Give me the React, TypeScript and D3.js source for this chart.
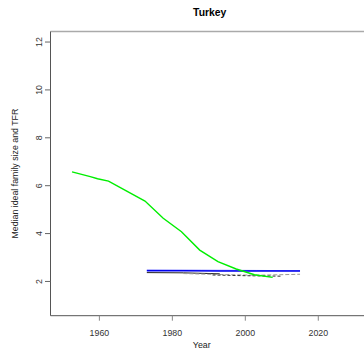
import React from "react";
import * as d3 from "d3";

// Total fertility rate (5-year period midpoints)
const tfrYears = [1952.5, 1957.5, 1959.5, 1962.5, 1967.5, 1972.5, 1977.5, 1982.5, 1987.5, 1992.5, 1997.5, 2002.5, 2007.5];
const tfrValues = [6.58, 6.38, 6.29, 6.19, 5.77, 5.36, 4.64, 4.08, 3.31, 2.83, 2.52, 2.28, 2.17];

// Median ideal family size (survey estimates)
const idealYears = [1973, 1983, 1993, 2003, 2015];
const idealValues = [2.45, 2.45, 2.44, 2.44, 2.44];
const idealUpperYears = [1973, 1988, 2003, 2015];
const idealUpperValues = [2.48, 2.47, 2.46, 2.45];

// Ideal family size by subgroup
const groupAYears = [1973, 1983, 1993];
const groupAValues = [2.37, 2.36, 2.32];
const groupBYears = [1983, 1993, 2003, 2015];
const groupBValues = [2.33, 2.29, 2.26, 2.30];
const groupCYears = [1991, 2000, 2010];
const groupCValues = [2.27, 2.24, 2.22];

const xTicks = [1960, 1980, 2000, 2020];
const yTicks = [2, 4, 6, 8, 10, 12];

const W = 364;
const H = 364;
const left = 50.5;
const right = 369;
const top = 31.5;
const bottom = 315.7;

export default function App() {
  const x = d3.scaleLinear().domain([1946.6, 2033.9]).range([left, right]);
  const y = d3.scaleLinear().domain([0.57, 12.44]).range([bottom, top]);
  const line = (xs: number[], ys: number[]) =>
    d3.line<number>().x((_, i) => x(xs[i])).y((v) => y(v))(ys) || "";

  const font = "Liberation Sans, Arial, Helvetica, sans-serif";
  const fs = 8.8;

  return (
    <svg width={W} height={H} style={{ position: "absolute", left: 0, top: 0, background: "#fff" }}>
      <rect width={W} height={H} fill="#fff" />
      <text x={(left + right) / 2} y={15.5} textAnchor="middle" fontFamily={font} fontWeight="bold" fontSize={10.4} fill="#000">
        Turkey
      </text>

      {/* frame */}
      <line x1={left} x2={W} y1={top} y2={top} stroke="#aaa" strokeWidth={1.6} />
      <line x1={left} x2={left} y1={top} y2={bottom} stroke="#555" strokeWidth={1} />
      <line x1={left} x2={W} y1={bottom} y2={bottom} stroke="#555" strokeWidth={1} />

      {/* y axis */}
      {yTicks.map((t) => (
        <g key={t}>
          <line x1={left - 5.5} x2={left} y1={y(t)} y2={y(t)} stroke="#666" strokeWidth={1} />
          <text
            transform={`translate(38.5,${y(t)}) rotate(-90)`}
            textAnchor="middle"
            dominantBaseline="central"
            fontFamily={font}
            fontSize={fs}
            fill="#333"
          >
            {t}
          </text>
        </g>
      ))}
      <text
        transform={`translate(15,${(top + bottom) / 2}) rotate(-90)`}
        textAnchor="middle"
        dominantBaseline="central"
        fontFamily={font}
        fontSize={fs}
        fill="#222"
      >
        Median ideal family size and TFR
      </text>

      {/* x axis */}
      {xTicks.map((t) => (
        <g key={t}>
          <line x1={x(t)} x2={x(t)} y1={bottom} y2={bottom + 5} stroke="#888" strokeWidth={1} />
          <text x={x(t)} y={335.5} textAnchor="middle" fontFamily={font} fontSize={fs} fill="#333">
            {t}
          </text>
        </g>
      ))}
      <text x={(left + right) / 2 - 8} y={348} textAnchor="middle" fontFamily={font} fontSize={fs} fill="#222">
        Year
      </text>

      {/* series */}
      <path d={line(groupAYears, groupAValues)} fill="none" stroke="#222" strokeWidth={1} />
      <path d={line(groupBYears, groupBValues)} fill="none" stroke="#999" strokeWidth={1} strokeDasharray="4 2" />
      <path d={line(groupCYears, groupCValues)} fill="none" stroke="#333" strokeWidth={1} strokeDasharray="3 2" />
      <path d={line(idealUpperYears, idealUpperValues)} fill="none" stroke="#7777ff" strokeWidth={1} />
      <path d={line(idealYears, idealValues)} fill="none" stroke="#0000ee" strokeWidth={1.6} />
      <path d={line(tfrYears, tfrValues)} fill="none" stroke="#00ee00" strokeWidth={1.4} />
    </svg>
  );
}
